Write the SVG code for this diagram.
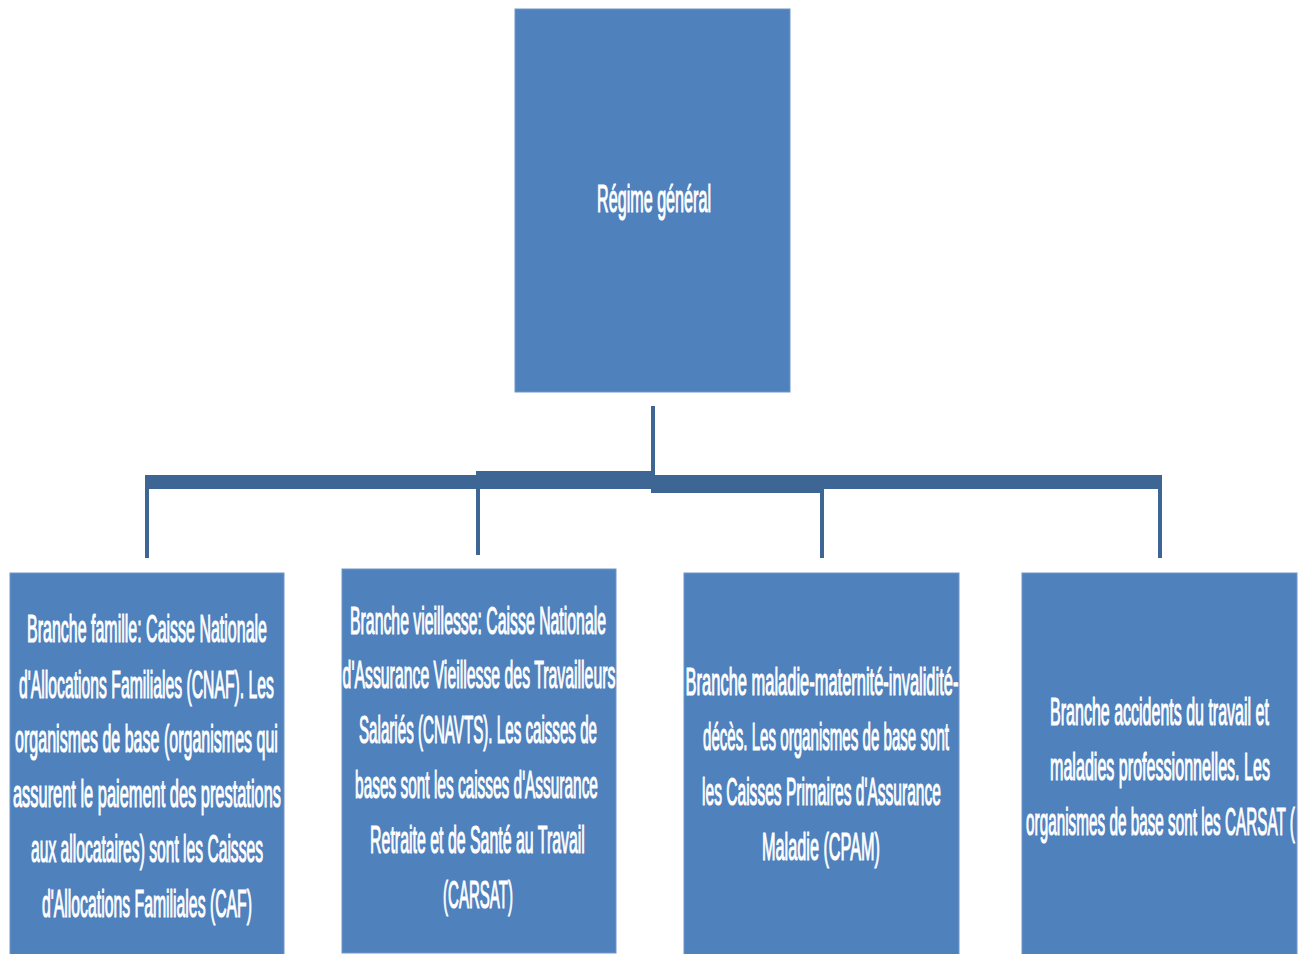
<svg xmlns="http://www.w3.org/2000/svg" width="1309" height="954" viewBox="0 0 1309 954">
<style>
.box{fill:#4f81bd;stroke:#6f96c8;stroke-width:1}
.t{fill:#ffffff;stroke:#ffffff;stroke-width:1.2;font-family:"Liberation Sans",Arial,sans-serif;font-size:38px;text-anchor:middle}
.c{stroke:#3d6695;fill:none;stroke-width:4}
.bar{fill:#3d6695}
</style>
<rect width="1309" height="954" fill="#ffffff"/>
<g id="connectors">
<line class="c" x1="653" y1="406" x2="653" y2="476"/>
<rect class="bar" x="145" y="475" width="335" height="14"/>
<rect class="bar" x="476" y="471" width="179" height="18"/>
<rect class="bar" x="651" y="475" width="173" height="18"/>
<rect class="bar" x="820" y="475" width="342" height="14"/>
<line class="c" x1="147" y1="478" x2="147" y2="558"/>
<line class="c" x1="478" y1="475" x2="478" y2="555"/>
<line class="c" x1="822" y1="478" x2="822" y2="558"/>
<line class="c" x1="1160" y1="478" x2="1160" y2="558"/>
</g>
<g id="regime">
<rect class="box" x="515" y="9" width="275" height="383"/>
<text class="t" transform="translate(654,212) scale(0.4,1)" textLength="285" lengthAdjust="spacingAndGlyphs">Régime général</text>
</g>
<g id="famille">
<rect class="box" x="10" y="573" width="274" height="385"/>
<text class="t" transform="translate(147,642) scale(0.4,1)" textLength="600" lengthAdjust="spacingAndGlyphs">Branche famille: Caisse Nationale</text>
<text class="t" transform="translate(146.5,698) scale(0.4,1)" textLength="637" lengthAdjust="spacingAndGlyphs">d'Allocations Familiales (CNAF). Les</text>
<text class="t" transform="translate(146.5,752) scale(0.4,1)" textLength="657" lengthAdjust="spacingAndGlyphs">organismes de base (organismes qui</text>
<text class="t" transform="translate(147,807) scale(0.4,1)" textLength="670" lengthAdjust="spacingAndGlyphs">assurent le paiement des prestations</text>
<text class="t" transform="translate(147,862) scale(0.4,1)" textLength="580" lengthAdjust="spacingAndGlyphs">aux allocataires) sont les Caisses</text>
<text class="t" transform="translate(147,917) scale(0.4,1)" textLength="525" lengthAdjust="spacingAndGlyphs">d'Allocations Familiales (CAF)</text>
</g>
<g id="vieillesse">
<rect class="box" x="342" y="569" width="274" height="384"/>
<text class="t" transform="translate(478,634) scale(0.4,1)" textLength="640" lengthAdjust="spacingAndGlyphs">Branche vieillesse: Caisse Nationale</text>
<text class="t" transform="translate(479,688) scale(0.4,1)" textLength="682" lengthAdjust="spacingAndGlyphs">d'Assurance Vieillesse des Travailleurs</text>
<text class="t" transform="translate(478,743) scale(0.4,1)" textLength="595" lengthAdjust="spacingAndGlyphs">Salariés (CNAVTS). Les caisses de</text>
<text class="t" transform="translate(476.5,798) scale(0.4,1)" textLength="607" lengthAdjust="spacingAndGlyphs">bases sont les caisses d'Assurance</text>
<text class="t" transform="translate(477.5,853) scale(0.4,1)" textLength="537" lengthAdjust="spacingAndGlyphs">Retraite et de Santé au Travail</text>
<text class="t" transform="translate(478,908) scale(0.4,1)" textLength="175" lengthAdjust="spacingAndGlyphs">(CARSAT)</text>
</g>
<g id="maladie">
<rect class="box" x="684" y="573" width="275" height="385"/>
<text class="t" transform="translate(822,695) scale(0.4,1)" textLength="682" lengthAdjust="spacingAndGlyphs">Branche maladie-maternité-invalidité-</text>
<text class="t" transform="translate(826,750) scale(0.4,1)" textLength="615" lengthAdjust="spacingAndGlyphs">décès. Les organismes de base sont</text>
<text class="t" transform="translate(821.5,805) scale(0.4,1)" textLength="597" lengthAdjust="spacingAndGlyphs">les Caisses Primaires d'Assurance</text>
<text class="t" transform="translate(821,860) scale(0.4,1)" textLength="295" lengthAdjust="spacingAndGlyphs">Maladie (CPAM)</text>
</g>
<g id="accidents">
<rect class="box" x="1022" y="573" width="275" height="385"/>
<text class="t" transform="translate(1159.5,725) scale(0.4,1)" textLength="547" lengthAdjust="spacingAndGlyphs">Branche accidents du travail et</text>
<text class="t" transform="translate(1160,780) scale(0.4,1)" textLength="550" lengthAdjust="spacingAndGlyphs">maladies professionnelles. Les</text>
<text class="t" transform="translate(1160.5,835) scale(0.4,1)" textLength="672" lengthAdjust="spacingAndGlyphs">organismes de base sont les CARSAT (</text>
</g>
</svg>
